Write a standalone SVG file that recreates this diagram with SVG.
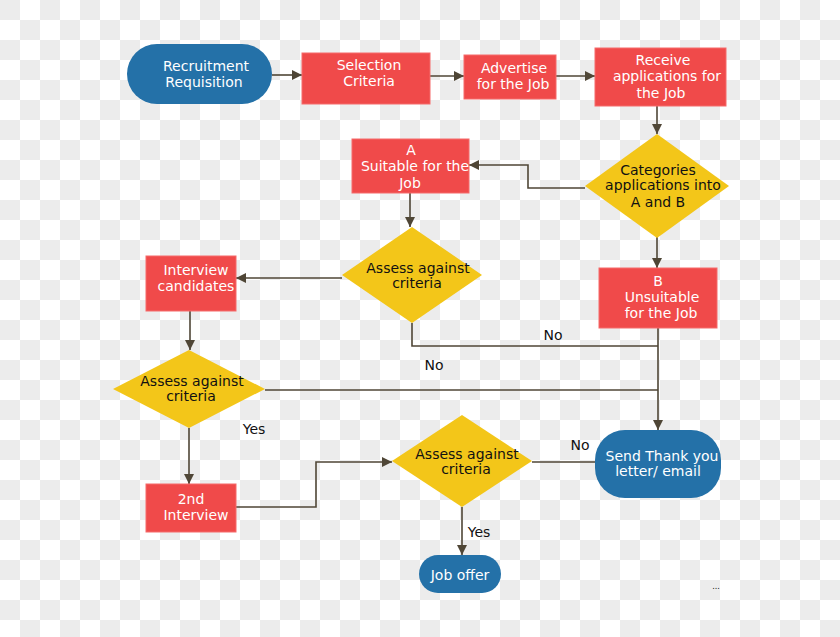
<svg xmlns="http://www.w3.org/2000/svg" width="840" height="637" viewBox="0 0 840 637">
<defs>
<pattern id="chk" width="40" height="40" patternUnits="userSpaceOnUse"><rect width="40" height="40" fill="#ffffff"/><rect width="20" height="20" fill="#ececec"/><rect x="20" y="20" width="20" height="20" fill="#ececec"/></pattern>
<marker id="ar" viewBox="0 0 10 10" refX="10" refY="5" markerWidth="10" markerHeight="10" markerUnits="userSpaceOnUse" orient="auto"><path d="M0,0 L10,5 L0,10 Z" fill="#4f4636"/></marker>
<style>
.r{fill:#f04a4a;stroke:#f56a6a;stroke-width:1}
.b{fill:#2471a8}
.d{fill:#f3c619}
.w{font-family:"DejaVu Sans",sans-serif;font-size:14px;fill:#fff;text-anchor:middle}
.k{font-family:"DejaVu Sans",sans-serif;font-size:14px;fill:#111;text-anchor:middle}
.c{fill:none;stroke:#4f4636;stroke-width:1.6}
</style>
</defs>
<rect width="840" height="637" fill="url(#chk)"/>
<g id="connectors">
<path class="c" d="M272,75 H302" marker-end="url(#ar)"/>
<path class="c" d="M430,76 H464" marker-end="url(#ar)"/>
<path class="c" d="M556,76 H595" marker-end="url(#ar)"/>
<path class="c" d="M657,106 V134" marker-end="url(#ar)"/>
<path class="c" d="M585,188 H528 V165 H469" marker-end="url(#ar)"/>
<path class="c" d="M410,193 V227" marker-end="url(#ar)"/>
<path class="c" d="M342,278 H236" marker-end="url(#ar)"/>
<path class="c" d="M190,311 V350" marker-end="url(#ar)"/>
<path class="c" d="M412,323 V346 H658"/>
<path class="c" d="M657,237 V268" marker-end="url(#ar)"/>
<path class="c" d="M658,328 V430" marker-end="url(#ar)"/>
<path class="c" d="M265,390 H658"/>
<path class="c" d="M189,428 V484" marker-end="url(#ar)"/>
<path class="c" d="M236,507 H316 V462 H392" marker-end="url(#ar)"/>
<path class="c" d="M532,462 H595"/>
<path class="c" d="M462,507 V555" marker-end="url(#ar)"/>
<text class="k" x="553" y="340">No</text>
<text class="k" x="434" y="370">No</text>
<text class="k" x="254" y="434">Yes</text>
<text class="k" x="580" y="450">No</text>
<text class="k" x="479" y="537">Yes</text>
<text class="k" x="716" y="589" style="font-size:8px">...</text>
</g>
<g id="recruitment"><rect class="b" x="127" y="44" width="145" height="60" rx="30"/><text class="w" x="206" y="71">Recruitment</text><text class="w" x="204" y="87">Requisition</text></g>
<g id="selection"><rect class="r" x="302" y="53" width="128" height="51"/><text class="w" x="369" y="70">Selection</text><text class="w" x="369" y="86">Criteria</text></g>
<g id="advertise"><rect class="r" x="464" y="55" width="92" height="44"/><text class="w" x="514" y="73">Advertise</text><text class="w" x="513" y="89">for the Job</text></g>
<g id="receive"><rect class="r" x="595" y="48" width="131" height="58"/><text class="w" x="663" y="65">Receive</text><text class="w" x="667" y="81">applications for</text><text class="w" x="661" y="98">the Job</text></g>
<g id="categories"><polygon class="d" points="657,134 729,186 657,238 585,186"/><text class="k" x="658" y="175">Categories</text><text class="k" x="663" y="190">applications into</text><text class="k" x="658" y="207">A and B</text></g>
<g id="a"><rect class="r" x="352" y="139" width="117" height="54"/><text class="w" x="411" y="155">A</text><text class="w" x="415" y="171">Suitable for the</text><text class="w" x="410" y="188">Job</text></g>
<g id="assess1"><polygon class="d" points="412,227 482,275 412,323 342,275"/><text class="k" x="418" y="273">Assess against</text><text class="k" x="417" y="288">criteria</text></g>
<g id="interview"><rect class="r" x="146" y="256" width="90" height="55"/><text class="w" x="196" y="275">Interview</text><text class="w" x="196" y="291">candidates</text></g>
<g id="b"><rect class="r" x="599" y="268" width="118" height="60"/><text class="w" x="658" y="286">B</text><text class="w" x="662" y="302">Unsuitable</text><text class="w" x="661" y="318">for the Job</text></g>
<g id="assess2"><polygon class="d" points="189,350 265,389 189,428 113,389"/><text class="k" x="192" y="386">Assess against</text><text class="k" x="191" y="401">criteria</text></g>
<g id="thanks"><rect class="b" x="595" y="430" width="126" height="68" rx="30"/><text class="w" x="662" y="461">Send Thank you</text><text class="w" x="658" y="476">letter/ email</text></g>
<g id="assess3"><polygon class="d" points="462,415 532,461 462,507 392,461"/><text class="k" x="467" y="459">Assess against</text><text class="k" x="466" y="474">criteria</text></g>
<g id="second"><rect class="r" x="146" y="484" width="90" height="48"/><text class="w" x="191" y="504">2nd</text><text class="w" x="196" y="520">Interview</text></g>
<g id="joboffer"><rect class="b" x="419" y="555" width="82" height="38" rx="19"/><text class="w" x="460" y="580">Job offer</text></g>
</svg>
